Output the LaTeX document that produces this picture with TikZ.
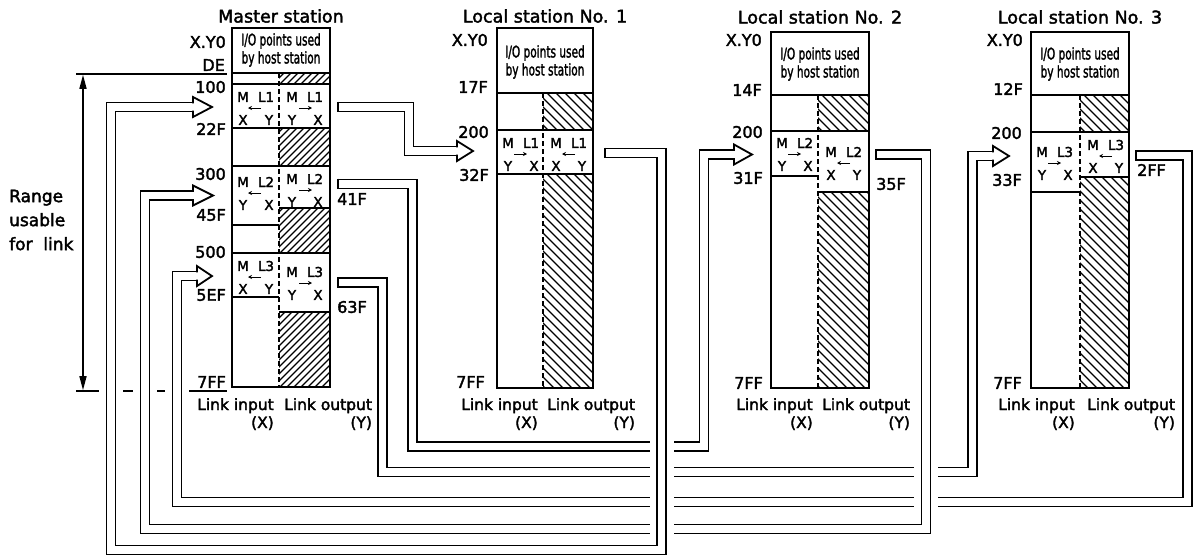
\documentclass[tikz,border=0pt]{standalone}
\usepackage{fontspec}
\setmainfont{DejaVu Sans}[FakeBold=2.2]
\usepackage{graphicx}
\usetikzlibrary{arrows.meta}
\tikzset{
 boxline/.style={line width=2.2pt},
 rowline/.style={line width=1.6pt},
 divline/.style={line width=1.5pt, dash pattern=on 5pt off 3pt},
 hatchline/.style={line width=1.2pt},
 pipe/.style={draw=black, double=white, double distance=7.2pt, line width=1.8pt, line join=miter, line cap=butt},
 halo/.style={draw=white, line width=24pt, line cap=butt, line join=miter},
 pipehead/.style={draw=black, fill=white, line width=1.8pt, line join=miter},
 pipecap/.style={line width=1.8pt},
 lbl/.style={font=\fontsize{16}{18}\selectfont, inner sep=0pt},
 titletxt/.style={font=\fontsize{17.5}{20}\selectfont, inner sep=0pt},
 hdrtxt/.style={font=\fontsize{16}{18}\selectfont, inner sep=0pt, align=center},
 celltxt/.style={font=\fontsize{13.5}{15}\selectfont, inner sep=0pt},
 linktxt/.style={font=\fontsize{15.5}{18}\selectfont, inner sep=0pt},
 rangetxt/.style={font=\fontsize{17}{24}\selectfont, inner sep=0pt, align=left},
 smallarr/.style={line width=0.9pt, -{Stealth[length=4pt,width=4pt]}},
 rangearr/.style={line width=1.5pt, {Triangle[length=14pt,width=7pt]}-{Triangle[length=14pt,width=7pt]}},
}
% hatching helpers (y axis points down)
\newcommand\hatchNE[4]{\begin{scope}\clip (#1,#2) rectangle (#3,#4);
 \foreach \k in {-230,-223,...,70} {\draw[hatchline] (#1+\k,#4) -- (#1+\k+230,#4-230);}
 \end{scope}}
\newcommand\hatchNW[4]{\begin{scope}\clip (#1,#2) rectangle (#3,#4);
 \foreach \k in {-230,-221,...,70} {\draw[hatchline] (#1+\k,#2) -- (#1+\k+230,#2+230);}
 \end{scope}}
% cell contents: x, ytop, L-label, arrow from, arrow to, bottom-left, bottom-right, name prefix
\newcommand\cellt[8]{%
 \node[celltxt] (#8m) at (#1+11,#2) {M};
 \node[celltxt] (#8l) at (#1+34,#2) {#3};
 \draw[smallarr] (#1+#4,#2+11) -- (#1+#5,#2+11);
 \node[celltxt] (#8a) at (#1+11,#2+23) {#6};
 \node[celltxt] (#8b) at (#1+37,#2+23) {#7};
}
\newcommand\pipepath[1]{\draw[halo] #1; \draw[pipe] #1;}
\newcommand\pipecapat[2]{\draw[pipecap] (#1+0.9,#2-5.4) -- (#1+0.9,#2+5.4);}
\newcommand\pipeheadat[3]{\filldraw[pipehead] (#1,#2-3.6) -- (#1,#2-10) -- (#3,#2) -- (#1,#2+10) -- (#1,#2+3.6);}
\begin{document}
\begin{tikzpicture}[x=1pt,y=-1pt]
\useasboundingbox (0,0) rectangle (1195,557);

% ---------------- titles
\node[titletxt] (tM) at (281,16) {Master station};
\node[titletxt] (t1) at (545,16) {Local station No. 1};
\node[titletxt] (t2) at (820,17) {Local station No. 2};
\node[titletxt] (t3) at (1080,17) {Local station No. 3};

% ---------------- master station
\hatchNE{279}{73}{330}{84}
\hatchNE{279}{128}{330}{166}
\hatchNE{279}{208}{330}{253}
\hatchNE{279}{312}{330}{387}
\draw[rowline] (232,73)--(330,73) (232,84)--(330,84) (232,128)--(330,128)
 (232,166)--(330,166) (232,253)--(330,253) (232,225)--(279,225) (232,297)--(279,297)
 (279,208)--(330,208) (279,312)--(330,312);
\draw[divline] (279,73) -- (279,387);
\draw[boxline] (232,28) rectangle (330,387);
\node[hdrtxt] (hM) at (281,50) {\scalebox{0.66}[1]{I/O points used}\\\scalebox{0.66}[1]{by host station}};

% ---------------- local station 1
\hatchNW{543}{93}{593}{130}
\hatchNW{543}{174}{593}{388}
\draw[rowline] (497,93)--(593,93) (497,130)--(593,130) (497,174)--(593,174);
\draw[divline] (543,93) -- (543,388);
\draw[boxline] (497,28) rectangle (593,388);
\node[hdrtxt] (h1) at (545,62) {\scalebox{0.66}[1]{I/O points used}\\\scalebox{0.66}[1]{by host station}};

% ---------------- local station 2
\hatchNW{818}{95}{869}{131}
\hatchNW{818}{192}{869}{388}
\draw[rowline] (771,95)--(869,95) (771,131)--(869,131) (771,176)--(818,176) (818,192)--(869,192);
\draw[divline] (818,95) -- (818,388);
\draw[boxline] (771,32) rectangle (869,388);
\node[hdrtxt] (h2) at (820,64) {\scalebox{0.66}[1]{I/O points used}\\\scalebox{0.66}[1]{by host station}};

% ---------------- local station 3
\hatchNW{1080}{95}{1129}{132}
\hatchNW{1080}{177}{1129}{388}
\draw[rowline] (1031,95)--(1129,95) (1031,132)--(1129,132) (1080,177)--(1129,177) (1031,192)--(1080,192);
\draw[divline] (1080,95) -- (1080,388);
\draw[boxline] (1031,32) rectangle (1129,388);
\node[hdrtxt] (h3) at (1080,64) {\scalebox{0.66}[1]{I/O points used}\\\scalebox{0.66}[1]{by host station}};

% ---------------- range usable for link
\draw[rowline] (76,74) -- (227,74);
\draw[rowline] (76,391) -- (227,391);
\coordinate (rtop) at (83,74.8);
\coordinate (rbot) at (83,390.2);
\draw[rangearr] (rtop) -- (rbot);

% ---------------- pipes (connectors)
\coordinate (m1o) at (337,107);   \coordinate (l1i) at (457,151);
\coordinate (m2o) at (337,184);   \coordinate (l2i) at (734,154.5);
\coordinate (m3o) at (337,282.5); \coordinate (l3i) at (993,156);
\coordinate (l1o) at (604,153);   \coordinate (m1i) at (193,107);
\coordinate (l2o) at (875,154.5); \coordinate (m2i) at (193,195.5);
\coordinate (l3o) at (1135,155.5);\coordinate (m3i) at (197,276);

% master L1 output -> local 1
\pipepath{(m1o) -- (409,107) -- (409,151) -- (l1i)}
\pipecapat{337}{107}
\pipeheadat{457}{151}{473}
% master L3 output -> local 3
\pipepath{(m3o) -- (382.5,282.5) -- (382.5,472) -- (972.5,472) -- (972.5,156) -- (l3i)}
\pipecapat{337}{282.5}
\pipeheadat{993}{156}{1009}
% local 3 output -> master
\pipepath{(l3o) -- (1187.5,155.5) -- (1187.5,502) -- (177,502) -- (177,276) -- (m3i)}
\pipecapat{1135}{155.5}
\pipeheadat{197}{276}{212}
% local 2 output -> master
\pipepath{(l2o) -- (926,154.5) -- (926,529) -- (145,529) -- (145,195.5) -- (m2i)}
\pipecapat{875}{154.5}
\pipeheadat{193}{195.5}{213}
% master L2 output -> local 2
\pipepath{(m2o) -- (412.5,184) -- (412.5,446.5) -- (704,446.5) -- (704,154.5) -- (l2i)}
\pipecapat{337}{184}
\pipeheadat{734}{154.5}{752}
% local 1 output -> master
\pipepath{(l1o) -- (661.5,153) -- (661.5,550) -- (111,550) -- (111,107) -- (m1i)}
\pipecapat{604}{153}
\pipeheadat{193}{107}{212}

% ---------------- cell contents
\cellt{232}{97}{L1}{29}{16}{X}{Y}{mla}
\cellt{281}{97}{L1}{18}{31}{Y}{X}{mra}
\cellt{232}{182}{L2}{29}{16}{Y}{X}{mlb}
\cellt{281}{179}{L2}{18}{31}{Y}{X}{mrb}
\cellt{232}{266}{L3}{29}{16}{X}{Y}{mlc}
\cellt{281}{272}{L3}{18}{31}{Y}{X}{mrc}
\cellt{497}{143}{L1}{17}{30}{Y}{X}{ala}
\cellt{545}{143}{L1}{30}{17}{X}{Y}{ara}
\cellt{771}{143}{L2}{17}{30}{Y}{X}{bla}
\cellt{820}{152}{L2}{30}{17}{X}{Y}{bra}
\cellt{1031}{152}{L3}{17}{30}{Y}{X}{cla}
\cellt{1082}{145}{L3}{30}{17}{X}{Y}{cra}

% ---------------- address labels
\node[lbl,anchor=east] (mXY) at (226,42) {X.Y0};
\node[lbl,anchor=east] (mDE) at (225,65) {DE};
\node[lbl,anchor=east] (m100) at (226,87) {100};
\node[lbl,anchor=east] (m22F) at (226,129) {22F};
\node[lbl,anchor=east] (m300) at (226,174) {300};
\node[lbl,anchor=east] (m45F) at (226,215) {45F};
\node[lbl,anchor=east] (m500) at (226,252) {500};
\node[lbl,anchor=east] (m5EF) at (226,295) {5EF};
\node[lbl,anchor=east] (m7FF) at (226,382) {7FF};
\node[lbl,anchor=west] (m41F) at (337,199) {41F};
\node[lbl,anchor=west] (m63F) at (337,307) {63F};

\node[lbl,anchor=east] (aXY) at (488,40) {X.Y0};
\node[lbl,anchor=east] (a17F) at (488,87) {17F};
\node[lbl,anchor=east] (a200) at (489,132) {200};
\node[lbl,anchor=east] (a32F) at (489,175) {32F};
\node[lbl,anchor=east] (a7FF) at (485,382) {7FF};

\node[lbl,anchor=east] (bXY) at (762,40) {X.Y0};
\node[lbl,anchor=east] (b14F) at (762,90) {14F};
\node[lbl,anchor=east] (b200) at (763,132) {200};
\node[lbl,anchor=east] (b31F) at (763,178) {31F};
\node[lbl,anchor=east] (b7FF) at (763,383) {7FF};
\node[lbl,anchor=west] (b35F) at (876,184) {35F};

\node[lbl,anchor=east] (cXY) at (1023,40) {X.Y0};
\node[lbl,anchor=east] (c12F) at (1023,89) {12F};
\node[lbl,anchor=east] (c200) at (1022,133) {200};
\node[lbl,anchor=east] (c33F) at (1022,180) {33F};
\node[lbl,anchor=east] (c7FF) at (1022,383) {7FF};
\node[lbl,anchor=west] (c2FF) at (1137,170) {2FF};

% ---------------- link input / output labels
\node[linktxt,anchor=base east] (mLi) at (274,410) {Link input};
\node[linktxt,anchor=base west] (mLo) at (284,410) {Link output};
\node[linktxt,anchor=base east] (mX) at (274,428) {(X)};
\path (mLo.base east) ++(0,18) node[linktxt,anchor=base east] (mY) {(Y)};

\node[linktxt,anchor=base east] (aLi) at (538,410) {Link input};
\node[linktxt,anchor=base west] (aLo) at (547,410) {Link output};
\node[linktxt,anchor=base east] (aX) at (538,428) {(X)};
\path (aLo.base east) ++(0,18) node[linktxt,anchor=base east] (aY) {(Y)};

\node[linktxt,anchor=base east] (bLi) at (813,410) {Link input};
\node[linktxt,anchor=base west] (bLo) at (822,410) {Link output};
\node[linktxt,anchor=base east] (bX) at (813,428) {(X)};
\path (bLo.base east) ++(0,18) node[linktxt,anchor=base east] (bY) {(Y)};

\node[linktxt,anchor=base east] (cLi) at (1075,410) {Link input};
\node[linktxt,anchor=base west] (cLo) at (1087,410) {Link output};
\node[linktxt,anchor=base east] (cX) at (1075,428) {(X)};
\path (cLo.base east) ++(0,18) node[linktxt,anchor=base east] (cY) {(Y)};

% ---------------- range text
\node[rangetxt,anchor=west] (rng) at (9,220) {Range\\usable\\for\ \ link};
\end{tikzpicture}
\end{document}
